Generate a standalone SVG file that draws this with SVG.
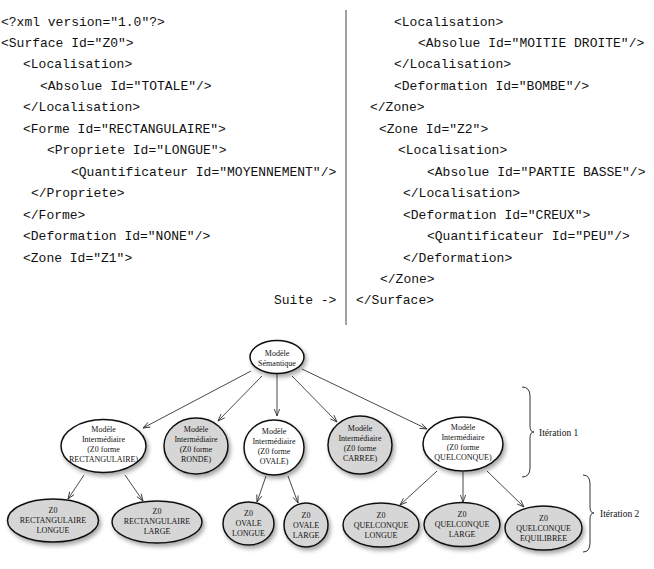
<svg xmlns="http://www.w3.org/2000/svg" width="654" height="569" viewBox="0 0 654 569">
<style>
.code{font-family:"Liberation Mono","DejaVu Sans Mono",monospace;font-size:13px;fill:#111;white-space:pre}
.lbl{font-family:"Liberation Serif","DejaVu Serif",serif;font-size:8px;fill:#111;text-anchor:middle}
.it{font-family:"Liberation Serif","DejaVu Serif",serif;font-size:9.5px;fill:#111}
.w{fill:#ffffff;stroke:#111;stroke-width:1.5}
.g{fill:#d6d6d6;stroke:#111;stroke-width:1.5}
.c{stroke:#333;stroke-width:0.9;fill:none;marker-end:url(#ah)}
.br{stroke:#333;stroke-width:1;fill:none}
</style>
<defs>
<marker id="ah" viewBox="0 0 10 8" refX="9" refY="4" markerWidth="9" markerHeight="7" markerUnits="userSpaceOnUse" orient="auto">
<path d="M1,1 L9,4 L1,7" fill="none" stroke="#333" stroke-width="1"/>
</marker>
<filter id="sh" x="-20%" y="-20%" width="150%" height="160%">
<feDropShadow dx="2" dy="3" stdDeviation="2" flood-color="#000" flood-opacity="0.35"/>
</filter>
</defs>

<g id="code-left">
<text class="code" x="1" y="25.5">&lt;?xml version="1.0"?&gt;</text>
<text class="code" x="1" y="47">&lt;Surface Id="Z0"&gt;</text>
<text class="code" x="23" y="68.4">&lt;Localisation&gt;</text>
<text class="code" x="40" y="89.9">&lt;Absolue Id="TOTALE"/&gt;</text>
<text class="code" x="23" y="111.3">&lt;/Localisation&gt;</text>
<text class="code" x="23" y="132.8">&lt;Forme Id="RECTANGULAIRE"&gt;</text>
<text class="code" x="47" y="154.2">&lt;Propriete Id="LONGUE"&gt;</text>
<text class="code" x="71" y="175.7">&lt;Quantificateur Id="MOYENNEMENT"/&gt;</text>
<text class="code" x="31" y="197.1">&lt;/Propriete&gt;</text>
<text class="code" x="23" y="218.6">&lt;/Forme&gt;</text>
<text class="code" x="23" y="240">&lt;Deformation Id="NONE"/&gt;</text>
<text class="code" x="23" y="261.5">&lt;Zone Id="Z1"&gt;</text>
<text class="code" x="274" y="304.4">Suite -&gt;</text>
</g>
<line x1="346" y1="10" x2="346" y2="325" stroke="#444" stroke-width="1"/>
<g id="code-right">
<text class="code" x="394" y="25.5">&lt;Localisation&gt;</text>
<text class="code" x="418" y="47">&lt;Absolue Id="MOITIE DROITE"/&gt;</text>
<text class="code" x="394" y="68.4">&lt;/Localisation&gt;</text>
<text class="code" x="394" y="89.9">&lt;Deformation Id="BOMBE"/&gt;</text>
<text class="code" x="370" y="111.3">&lt;/Zone&gt;</text>
<text class="code" x="379" y="132.8">&lt;Zone Id="Z2"&gt;</text>
<text class="code" x="398" y="154.2">&lt;Localisation&gt;</text>
<text class="code" x="427" y="175.7">&lt;Absolue Id="PARTIE BASSE"/&gt;</text>
<text class="code" x="403" y="197.1">&lt;/Localisation&gt;</text>
<text class="code" x="403" y="218.6">&lt;Deformation Id="CREUX"&gt;</text>
<text class="code" x="427" y="240">&lt;Quantificateur Id="PEU"/&gt;</text>
<text class="code" x="403" y="261.5">&lt;/Deformation&gt;</text>
<text class="code" x="380" y="283">&lt;/Zone&gt;</text>
<text class="code" x="356" y="304.4">&lt;/Surface&gt;</text>
</g>

<g id="connectors">
<line class="c" x1="251" y1="371" x2="143" y2="428"/>
<line class="c" x1="262" y1="376" x2="218" y2="421"/>
<line class="c" x1="277" y1="374" x2="277" y2="416"/>
<line class="c" x1="292" y1="376" x2="337" y2="422"/>
<line class="c" x1="302" y1="369" x2="427" y2="429"/>
<line class="c" x1="84" y1="475" x2="68" y2="499"/>
<line class="c" x1="125" y1="475" x2="143" y2="501"/>
<line class="c" x1="266" y1="476" x2="257" y2="502"/>
<line class="c" x1="288" y1="476" x2="298" y2="503"/>
<line class="c" x1="437" y1="471" x2="400" y2="505"/>
<line class="c" x1="463" y1="472" x2="463" y2="502"/>
<line class="c" x1="487" y1="471" x2="524" y2="507"/>
</g>

<g id="n-semantique">
<ellipse class="w" cx="277" cy="357" rx="27" ry="16.5" filter="url(#sh)"/>
<text class="lbl" x="277" y="356">Modèle</text>
<text class="lbl" x="277" y="366">Sémantique</text>
</g>
<g id="n-rect">
<ellipse class="w" cx="103.5" cy="446" rx="42.5" ry="26.5" filter="url(#sh)"/>
<text class="lbl" x="103.5" y="432">Modèle</text>
<text class="lbl" x="103.5" y="442">Intermédiaire</text>
<text class="lbl" x="103.5" y="452">(Z0 forme</text>
<text class="lbl" x="103.5" y="462">RECTANGULAIRE)</text>
</g>
<g id="n-ronde">
<ellipse class="g" cx="196" cy="446" rx="32" ry="28" filter="url(#sh)"/>
<text class="lbl" x="196" y="432">Modèle</text>
<text class="lbl" x="196" y="442">Intermédiaire</text>
<text class="lbl" x="196" y="452">(Z0 forme</text>
<text class="lbl" x="196" y="462">RONDE)</text>
</g>
<g id="n-ovale">
<ellipse class="w" cx="274" cy="447.5" rx="30" ry="27.5" filter="url(#sh)"/>
<text class="lbl" x="274" y="433.5">Modèle</text>
<text class="lbl" x="274" y="443.5">Intermédiaire</text>
<text class="lbl" x="274" y="453.5">(Z0 forme</text>
<text class="lbl" x="274" y="463.5">OVALE)</text>
</g>
<g id="n-carree">
<ellipse class="g" cx="360" cy="445" rx="32" ry="29" filter="url(#sh)"/>
<text class="lbl" x="360" y="431">Modèle</text>
<text class="lbl" x="360" y="441">Intermédiaire</text>
<text class="lbl" x="360" y="451">(Z0 forme</text>
<text class="lbl" x="360" y="461">CARREE)</text>
</g>
<g id="n-quelconque">
<ellipse class="w" cx="463" cy="444" rx="40" ry="27" filter="url(#sh)"/>
<text class="lbl" x="463" y="430">Modèle</text>
<text class="lbl" x="463" y="440">Intermédiaire</text>
<text class="lbl" x="463" y="450">(Z0 forme</text>
<text class="lbl" x="463" y="460">QUELCONQUE)</text>
</g>

<g id="n-rect-longue">
<ellipse class="g" cx="53" cy="520.5" rx="45.5" ry="21.5" filter="url(#sh)"/>
<text class="lbl" x="53" y="513">Z0</text>
<text class="lbl" x="53" y="523">RECTANGULAIRE</text>
<text class="lbl" x="53" y="533">LONGUE</text>
</g>
<g id="n-rect-large">
<ellipse class="g" cx="157" cy="522" rx="45" ry="21" filter="url(#sh)"/>
<text class="lbl" x="157" y="514">Z0</text>
<text class="lbl" x="157" y="524">RECTANGULAIRE</text>
<text class="lbl" x="157" y="534">LARGE</text>
</g>
<g id="n-ovale-longue">
<ellipse class="g" cx="248.5" cy="523.5" rx="25.5" ry="21.5" filter="url(#sh)"/>
<text class="lbl" x="248.5" y="516">Z0</text>
<text class="lbl" x="248.5" y="526">OVALE</text>
<text class="lbl" x="248.5" y="536">LONGUE</text>
</g>
<g id="n-ovale-large">
<ellipse class="g" cx="306" cy="525" rx="22" ry="22" filter="url(#sh)"/>
<text class="lbl" x="306" y="517.5">Z0</text>
<text class="lbl" x="306" y="527.5">OVALE</text>
<text class="lbl" x="306" y="537.5">LARGE</text>
</g>
<g id="n-quel-longue">
<ellipse class="g" cx="381" cy="525" rx="38" ry="22" filter="url(#sh)"/>
<text class="lbl" x="381" y="517.5">Z0</text>
<text class="lbl" x="381" y="527.5">QUELCONQUE</text>
<text class="lbl" x="381" y="537.5">LONGUE</text>
</g>
<g id="n-quel-large">
<ellipse class="g" cx="462" cy="524.5" rx="38" ry="22" filter="url(#sh)"/>
<text class="lbl" x="462" y="517">Z0</text>
<text class="lbl" x="462" y="527">QUELCONQUE</text>
<text class="lbl" x="462" y="537">LARGE</text>
</g>
<g id="n-quel-equilibree">
<ellipse class="g" cx="543.5" cy="528" rx="38.5" ry="22" filter="url(#sh)"/>
<text class="lbl" x="543.5" y="520.5">Z0</text>
<text class="lbl" x="543.5" y="530.5">QUELCONQUE</text>
<text class="lbl" x="543.5" y="540.5">EQUILIBREE</text>
</g>

<g id="iteration-1">
<path class="br" d="M522,387 Q530,387 530,396 L530,426 Q530,432 534,432 Q530,432 530,438 L530,468 Q530,477 522,477"/>
<text class="it" x="539" y="435.5">Itération 1</text>
</g>
<g id="iteration-2">
<path class="br" d="M583,475 Q590,475 590,484 L590,507 Q590,513 594,513 Q590,513 590,519 L590,543 Q590,552 583,552"/>
<text class="it" x="600" y="516.5">Itération 2</text>
</g>
</svg>
